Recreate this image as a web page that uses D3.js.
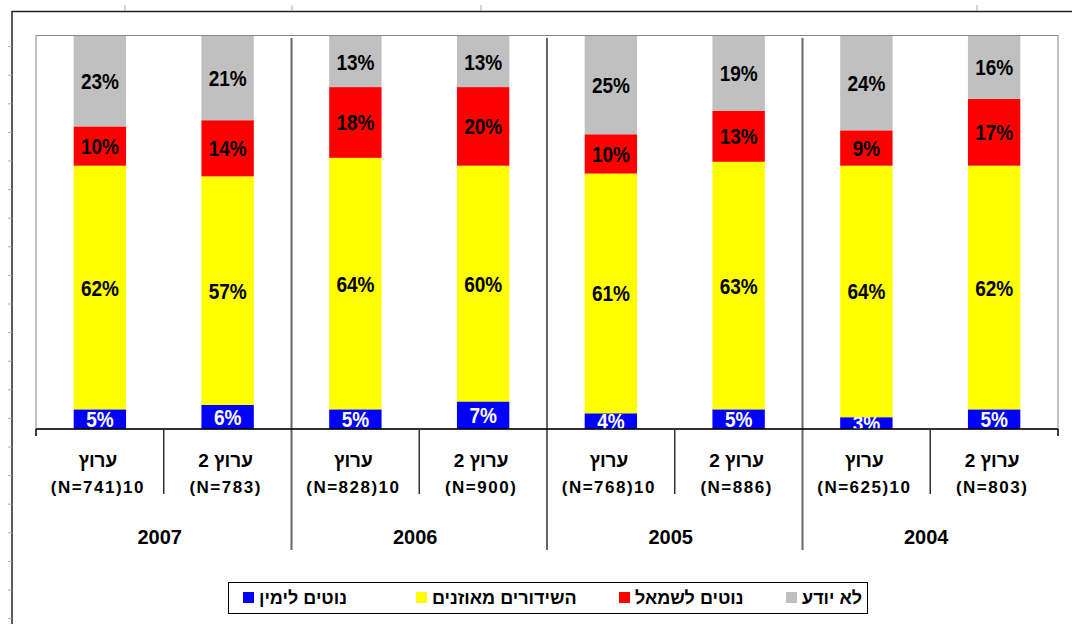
<!DOCTYPE html>
<html>
<head>
<meta charset="utf-8">
<script src="https://cdn.jsdelivr.net/npm/d3@7"></script>
<style>
  body { margin: 0; background: #fff; }
  svg { display: block; font-family: "Liberation Sans", Arial, sans-serif; }
</style>
</head>
<body>
<svg id="chart" width="1072" height="624"></svg>
<script>
// data
var years = ["2007", "2006", "2005", "2004"];
var channelTop = ["ערוץ", "ערוץ 2", "ערוץ", "ערוץ 2", "ערוץ", "ערוץ 2", "ערוץ", "ערוץ 2"];
var channelBottom = ["(N=741)10", "(N=783)", "(N=828)10", "(N=900)", "(N=768)10", "(N=886)", "(N=625)10", "(N=803)"];
var seriesNames = ["נוטים לימין", "השידורים מאוזנים", "נוטים לשמאל", "לא יודע"];
var seriesColors = ["#0000ff", "#ffff00", "#ff0000", "#c0c0c0"];
var leanRight = [5, 6, 5, 7, 4, 5, 3, 5];
var balanced = [62, 57, 64, 60, 61, 63, 64, 62];
var leanLeft = [10, 14, 18, 20, 10, 13, 9, 17];
var dontKnow = [23, 21, 13, 13, 25, 19, 24, 16];

var rows = channelBottom.map(function(d, i) {
  return {key: i, s0: leanRight[i], s1: balanced[i], s2: leanLeft[i], s3: dontKnow[i]};
});

var svg = d3.select("#chart"),
  margin = {top: 36, left: 36, right: 14, bottom: 195},
  width = 1072 - margin.left - margin.right,
  height = 624 - margin.top - margin.bottom;

// outer frame (sheet edge) with its little ticks
svg.append("line").attr("x1", 12).attr("x2", 1072).attr("y1", 11.5).attr("y2", 11.5)
  .attr("stroke", "#222").attr("stroke-width", 1.5);
svg.append("line").attr("x1", 12).attr("x2", 12).attr("y1", 11).attr("y2", 624)
  .attr("stroke", "#222").attr("stroke-width", 1.5);
svg.selectAll(".ltick").data(d3.range(1, 22)).enter().append("line")
  .attr("x1", 8).attr("x2", 12)
  .attr("y1", function(d) { return 18 + d * 28.6; })
  .attr("y2", function(d) { return 18 + d * 28.6; })
  .attr("stroke", "#aaa");
svg.selectAll(".ttick").data([125, 292, 481, 977]).enter().append("line")
  .attr("x1", function(d) { return d; }).attr("x2", function(d) { return d; })
  .attr("y1", 5).attr("y2", 11)
  .attr("stroke", "#aaa");

var g = svg.append("g").attr("transform", "translate(" + margin.left + "," + margin.top + ")");

var x = d3.scaleBand().domain(d3.range(8)).range([0, width]);
var y = d3.scaleLinear().domain([0, 1]).range([height, 0]);
var bw = x.bandwidth() * 0.41;

var stack = d3.stack().keys(["s0", "s1", "s2", "s3"]).offset(d3.stackOffsetExpand);
var layers = stack(rows);

// plot border
g.append("rect").attr("x", 0).attr("y", -0.5).attr("width", width).attr("height", height + 0.5)
  .attr("fill", "none").attr("stroke", "#888");

g.append("clipPath").attr("id", "plotclip")
  .append("rect").attr("x", 0).attr("y", 0).attr("width", width).attr("height", height);

var layer = g.selectAll(".layer")
  .data(layers)
  .enter().append("g")
  .attr("class", "layer")
  .attr("clip-path", "url(#plotclip)");

layer.selectAll("rect")
  .data(function(d) { return d; })
  .enter().append("rect")
  .attr("x", function(d, i) { return x(i) + (x.bandwidth() - bw) / 2; })
  .attr("width", bw)
  .attr("y", function(d) { return y(d[1]); })
  .attr("height", function(d) { return y(d[0]) - y(d[1]); })
  .attr("fill", function(d, i, nodes) { return seriesColors[d3.select(nodes[i].parentNode).datum().index]; });

layer.selectAll("text")
  .data(function(d) { return d.map(function(v) { return {v: v, key: d.key, idx: d.index}; }); })
  .enter().append("text")
  .attr("transform", function(d, i) {
    return "translate(" + (x(i) + x.bandwidth() / 2) + "," + ((y(d.v[0]) + y(d.v[1])) / 2 + 8) + ") scale(0.95,1.12)";
  })
  .attr("text-anchor", "middle")
  .attr("font-size", 20)
  .attr("font-weight", "bold")
  .attr("fill", function(d) { return d.idx === 0 ? "#fff" : "#000"; })
  .text(function(d) { return d.v.data[d.key] + "%"; });

// group separators through plot and below axis
var groupEdges = [2, 4, 6];
g.selectAll(".gsep").data(groupEdges).enter().append("line")
  .attr("x1", function(d) { return x(d); }).attr("x2", function(d) { return x(d); })
  .attr("y1", 2).attr("y2", height + 121)
  .attr("stroke", "#666").attr("stroke-width", 2);

// x axis
g.append("line").attr("x1", 0).attr("x2", width).attr("y1", height).attr("y2", height)
  .attr("stroke", "#000").attr("stroke-width", 1.5);
g.selectAll(".edge").data([0, width]).enter().append("line")
  .attr("x1", function(d) { return d; }).attr("x2", function(d) { return d; })
  .attr("y1", height).attr("y2", height + 7)
  .attr("stroke", "#000").attr("stroke-width", 1.5);
g.selectAll(".csep").data([1, 3, 5, 7]).enter().append("line")
  .attr("x1", function(d) { return x(d); }).attr("x2", function(d) { return x(d); })
  .attr("y1", height).attr("y2", height + 65)
  .attr("stroke", "#333").attr("stroke-width", 1.5);

g.selectAll(".cat1").data(channelTop).enter().append("text")
  .attr("x", function(d, i) { return x(i) + x.bandwidth() / 2 - 2; })
  .attr("y", height + 38)
  .attr("direction", "rtl")
  .attr("text-anchor", "middle")
  .attr("font-size", 19).attr("font-weight", "bold")
  .text(function(d) { return d; });

g.selectAll(".cat2").data(channelBottom).enter().append("text")
  .attr("x", function(d, i) { return x(i) + x.bandwidth() / 2 - 2; })
  .attr("y", height + 64)
  .attr("text-anchor", "middle")
  .attr("font-size", 17).attr("font-weight", "bold")
  .attr("letter-spacing", 1.5)
  .text(function(d) { return d; });

g.selectAll(".year").data(years).enter().append("text")
  .attr("x", function(d, i) { return x(i * 2 + 1) - 4; })
  .attr("y", height + 115)
  .attr("text-anchor", "middle")
  .attr("font-size", 20).attr("font-weight", "bold")
  .text(function(d) { return d; });

// legend
var legendSquares = [243, 416, 619, 786];
svg.append("rect").attr("x", 228.5).attr("y", 582.5).attr("width", 639).attr("height", 31)
  .attr("fill", "#fff").attr("stroke", "#000");
var item = svg.selectAll(".legend").data(seriesNames).enter().append("g");
item.append("rect")
  .attr("x", function(d, i) { return legendSquares[i]; })
  .attr("y", 592).attr("width", 11).attr("height", 11)
  .attr("fill", function(d, i) { return seriesColors[i]; });
item.append("text")
  .attr("x", function(d, i) { return legendSquares[i] + 16; })
  .attr("y", 604)
  .attr("direction", "rtl")
  .attr("text-anchor", "end")
  .attr("font-size", 18).attr("font-weight", "bold")
  .text(function(d) { return d; });
</script>
</body>
</html>
